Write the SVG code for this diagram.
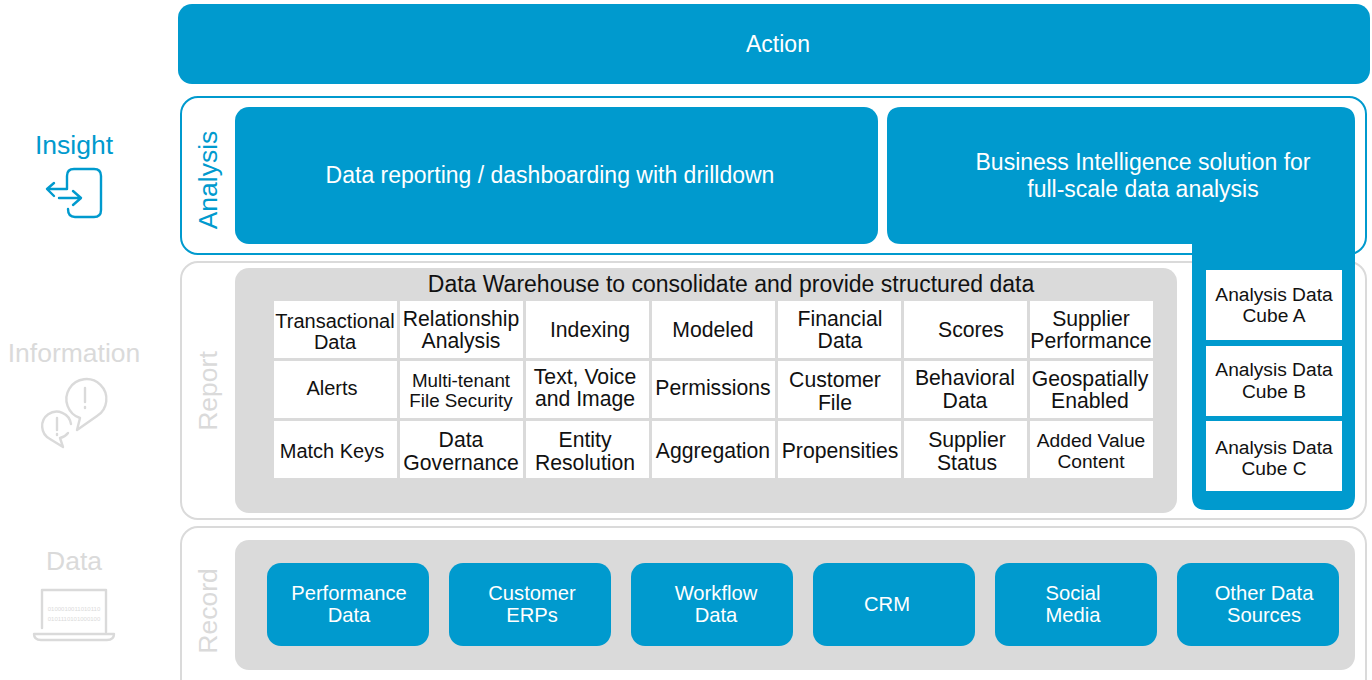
<svg xmlns="http://www.w3.org/2000/svg" width="1372" height="680" viewBox="0 0 1372 680">
<style>
text{font-family:"Liberation Sans",Arial,sans-serif;text-anchor:middle}
.b{fill:#009ACE}
.g{fill:#DADADA}
.w{fill:#fff}
.wt{fill:#fff;font-size:23px}
.wm{fill:#fff;font-size:20.2px}
.k{fill:#111;font-size:21.2px}
.c{fill:#111;font-size:19.2px}
.frb{fill:#fff;stroke:#009ACE;stroke-width:2}
.frg{fill:#fff;stroke:#DADADA;stroke-width:2}
.lb{fill:#009ACE;font-size:26.5px}
.lg{fill:#DADADA;font-size:26.5px}
.ib{fill:none;stroke:#009ACE;stroke-width:2.4;stroke-linecap:round;stroke-linejoin:round}
.ig{fill:none;stroke:#DADADA;stroke-width:2.4;stroke-linecap:round;stroke-linejoin:round}
.bin{fill:#DADADA;font-size:6px}
</style>
<rect width="1372" height="680" fill="#fff"/>
<g id="action"><rect class="b" x="178" y="4" width="1192" height="80" rx="14"/><text class="wt" x="778" y="52">Action</text></g>
<g id="analysis-frame"><rect class="frb" x="181" y="97" width="1185" height="157" rx="17"/><text class="lb" transform="translate(217 180) rotate(-90)">Analysis</text></g>
<g id="report-frame"><rect class="frg" x="181" y="262" width="1185" height="257" rx="17"/><text class="lg" transform="translate(217 391) rotate(-90)">Report</text></g>
<g id="record-frame"><rect class="frg" x="181" y="527" width="1185" height="170" rx="17"/><text class="lg" transform="translate(217 611) rotate(-90)">Record</text></g>
<g id="insight"><text class="lb" x="74" y="154">Insight</text>
<path class="ib" d="M67 189V176Q67 169 74 169H94Q101 169 101 176V210Q101 217 94 217H75Q68 217 68 209M67 189H48M54 183L47 189L54 196M59 198H80M73 191L81 198L73 205"/></g>
<g id="information"><text class="lg" x="74" y="362">Information</text>
<path class="ig" d="M97 416A20 20 0 1 0 80 418L77 430Z"/>
<path class="ig" d="M71 424A14.500 14.500 0 1 0 50 439L63 447L60 438Q65 437 68 433"/>
<path class="ig" d="M85 388V402M85 407V408M57 418V430M57 434V435"/></g>
<g id="data"><text class="lg" x="74" y="570">Data</text>
<path class="ig" d="M42 628V590H106V632M34 634H114Q114 640 107 640H41Q34 640 34 634"/>
<text class="bin" x="74" y="611">0100010011010110</text>
<text class="bin" x="74" y="621">0101110101000100</text></g>
<g id="data-reporting"><rect class="b" x="235" y="107" width="643" height="137" rx="14"/><text class="wt" x="550" y="183">Data reporting / dashboarding with drilldown</text></g>
<g id="warehouse"><rect class="g" x="235" y="268" width="942" height="245" rx="14"/><text class="k" style="font-size:23px" x="731" y="292">Data Warehouse to consolidate and provide structured data</text></g>
<g id="cells"><path class="w" d="M274 301h123v57h-123zM400 301h123v57h-123zM526 301h123v57h-123zM652 301h123v57h-123zM778 301h123v57h-123zM904 301h123v57h-123zM1030 301h123v57h-123zM274 361h123v57h-123zM400 361h123v57h-123zM526 361h123v57h-123zM652 361h123v57h-123zM778 361h123v57h-123zM904 361h123v57h-123zM1030 361h123v57h-123zM274 421h123v57h-123zM400 421h123v57h-123zM526 421h123v57h-123zM652 421h123v57h-123zM778 421h123v57h-123zM904 421h123v57h-123zM1030 421h123v57h-123z"/>
<text class="k" style="font-size:20px" x="335" y="328">Transactional</text><text class="k" style="font-size:20px" x="335" y="349">Data</text>
<text class="k" x="461" y="326">Relationship</text><text class="k" x="461" y="348">Analysis</text>
<text class="k" x="590" y="337">Indexing</text>
<text class="k" x="713" y="337">Modeled</text>
<text class="k" x="840" y="326">Financial</text><text class="k" x="840" y="348">Data</text>
<text class="k" x="971" y="337">Scores</text>
<text class="k" x="1091" y="326">Supplier</text><text class="k" x="1091" y="348">Performance</text>
<text class="k" style="font-size:20px" x="332" y="395">Alerts</text>
<text class="c" style="font-size:18.800px" x="461" y="387">Multi-tenant</text><text class="c" style="font-size:18.800px" x="461" y="407">File Security</text>
<text class="k" x="585" y="384">Text, Voice</text><text class="k" x="585" y="406">and Image</text>
<text class="k" x="713" y="395">Permissions</text>
<text class="k" x="835" y="387">Customer</text><text class="k" x="835" y="410">File</text>
<text class="k" x="965" y="385">Behavioral</text><text class="k" x="965" y="408">Data</text>
<text class="k" x="1090" y="386">Geospatially</text><text class="k" x="1090" y="408">Enabled</text>
<text class="k" style="font-size:20px" x="332" y="458">Match Keys</text>
<text class="k" x="461" y="447">Data</text><text class="k" x="461" y="470">Governance</text>
<text class="k" x="585" y="447">Entity</text><text class="k" x="585" y="470">Resolution</text>
<text class="k" x="713" y="458">Aggregation</text>
<text class="k" x="840" y="458">Propensities</text>
<text class="k" x="967" y="447">Supplier</text><text class="k" x="967" y="470">Status</text>
<text class="c" x="1091" y="447">Added Value</text><text class="c" x="1091" y="468">Content</text></g>
<g id="bi"><path class="b" d="M901 107H1341Q1355 107 1355 121V496Q1355 510 1341 510H1206Q1192 510 1192 496V244H901Q887 244 887 230V121Q887 107 901 107Z"/>
<text class="wt" x="1143" y="170">Business Intelligence solution for</text><text class="wt" x="1143" y="197">full-scale data analysis</text></g>
<g id="cube-a"><rect class="w" x="1206" y="270" width="136" height="70"/><text class="c" x="1274" y="301">Analysis Data</text><text class="c" x="1274" y="322">Cube A</text></g>
<g id="cube-b"><rect class="w" x="1206" y="346" width="136" height="70"/><text class="c" x="1274" y="376">Analysis Data</text><text class="c" x="1274" y="398">Cube B</text></g>
<g id="cube-c"><rect class="w" x="1206" y="421" width="136" height="70"/><text class="c" x="1274" y="454">Analysis Data</text><text class="c" x="1274" y="475">Cube C</text></g>
<g id="record-panel"><rect class="g" x="235" y="540" width="1120" height="130" rx="14"/></g>
<g id="src1"><rect class="b" x="267" y="563" width="162" height="83" rx="14"/><text class="wm" x="349" y="600">Performance</text><text class="wm" x="349" y="622">Data</text></g>
<g id="src2"><rect class="b" x="449" y="563" width="162" height="83" rx="14"/><text class="wm" x="532" y="600">Customer</text><text class="wm" x="532" y="622">ERPs</text></g>
<g id="src3"><rect class="b" x="631" y="563" width="162" height="83" rx="14"/><text class="wm" x="716" y="600">Workflow</text><text class="wm" x="716" y="622">Data</text></g>
<g id="src4"><rect class="b" x="813" y="563" width="162" height="83" rx="14"/><text class="wm" x="887" y="611">CRM</text></g>
<g id="src5"><rect class="b" x="995" y="563" width="162" height="83" rx="14"/><text class="wm" x="1073" y="600">Social</text><text class="wm" x="1073" y="622">Media</text></g>
<g id="src6"><rect class="b" x="1177" y="563" width="162" height="83" rx="14"/><text class="wm" x="1264" y="600">Other Data</text><text class="wm" x="1264" y="622">Sources</text></g>
<g id="connectors"/>
</svg>
